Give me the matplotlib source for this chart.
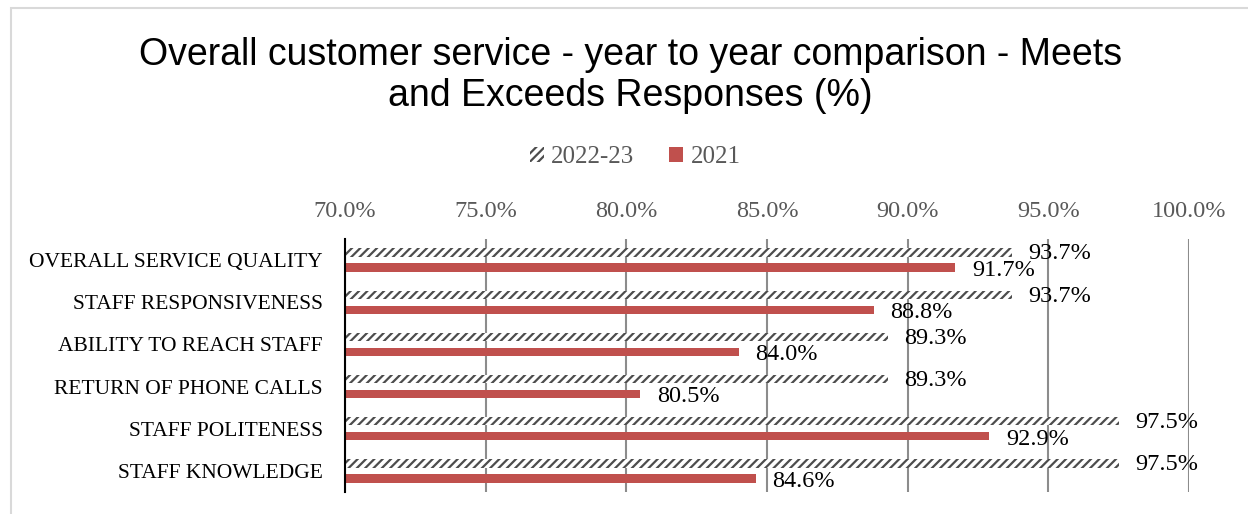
import matplotlib.pyplot as plt
import matplotlib.patches as mpatches
import numpy as np

categories = [
    "OVERALL SERVICE QUALITY",
    "STAFF RESPONSIVENESS",
    "ABILITY TO REACH STAFF",
    "RETURN OF PHONE CALLS",
    "STAFF POLITENESS",
    "STAFF KNOWLEDGE",
]
values_2022_23 = [93.7, 93.7, 89.3, 89.3, 97.5, 97.5]
values_2021 = [91.7, 88.8, 84.0, 80.5, 92.9, 84.6]
xticks = [70, 75, 80, 85, 90, 95, 100]

SERIF = "Liberation Serif"
SANS = "Liberation Sans"
RED = "#C0504D"
HATCH_GRAY = "#4d4d4d"
TICK_GRAY = "#595959"

plt.rcParams["hatch.linewidth"] = 1.6

fig = plt.figure(figsize=(12.48, 5.14), dpi=100)
ax = fig.add_axes([0.2764, 0.0428, 0.9527 - 0.2764, 0.535 - 0.0428])

y = np.arange(len(categories))
bar_h = 0.2
off = 0.178

hb = ax.barh(y - off, values_2022_23, height=bar_h, left=0, color="white",
             edgecolor=HATCH_GRAY, hatch="////", linewidth=0, zorder=3)
rb = ax.barh(y + off, values_2021, height=bar_h, left=0, color=RED,
             linewidth=0, zorder=3)

for yy, v in zip(y - off, values_2022_23):
    ax.annotate(f"{v:.1f}%", (v, yy), xytext=(12, -1), textcoords="offset points",
                va="center", ha="left", fontsize=17.5, family=SERIF, color="black", zorder=4)
for yy, v in zip(y + off, values_2021):
    ax.annotate(f"{v:.1f}%", (v, yy), xytext=(12, -2), textcoords="offset points",
                va="center", ha="left", fontsize=17.5, family=SERIF, color="black", zorder=4)

ax.set_xlim(70, 100)
ax.set_ylim(len(categories) - 0.5, -0.5)
ax.set_xticks(xticks)
ax.set_xticklabels([f"{t:.1f}%" for t in xticks], family=SERIF, fontsize=17.5, color=TICK_GRAY)
ax.xaxis.tick_top()
ax.tick_params(axis="x", length=0, pad=12)
ax.set_yticks(y)
ax.set_yticklabels(categories, family=SERIF, fontsize=15.5, color="black")
ax.tick_params(axis="y", length=0, pad=16)

ax.grid(axis="x", color="#8c8c8c", linewidth=1.5, zorder=0)
ax.set_axisbelow(True)
for s in ["top", "right", "bottom"]:
    ax.spines[s].set_visible(False)
ax.spines["left"].set_color("black")
ax.spines["left"].set_linewidth(1.5)
ax.spines["left"].set_zorder(5)

fig.text(0.505, 0.853, "Overall customer service - year to year comparison - Meets\nand Exceeds Responses (%)",
         ha="center", va="center", family=SANS, fontsize=27, color="black", linespacing=1.2)

handles = [
    mpatches.Patch(facecolor="white", edgecolor=HATCH_GRAY, hatch="////", linewidth=0, label="2022-23"),
    mpatches.Patch(facecolor=RED, linewidth=0, label="2021"),
]
fig.legend(handles=handles, loc="center", bbox_to_anchor=(0.509, 0.6946), ncol=2, frameon=False,
           prop={"family": SERIF, "size": 18}, labelcolor=TICK_GRAY, handlelength=0.55,
           handleheight=0.55, handletextpad=0.3, columnspacing=1.4)

# chart area outline
fig.patches.append(mpatches.Rectangle((10.5 / 1248, -0.1), 1.2, 1.1 - 8.5 / 514, transform=fig.transFigure,
                                      fill=False, edgecolor="#d9d9d9", linewidth=1.5))

fig.savefig("out.png", dpi=100)
